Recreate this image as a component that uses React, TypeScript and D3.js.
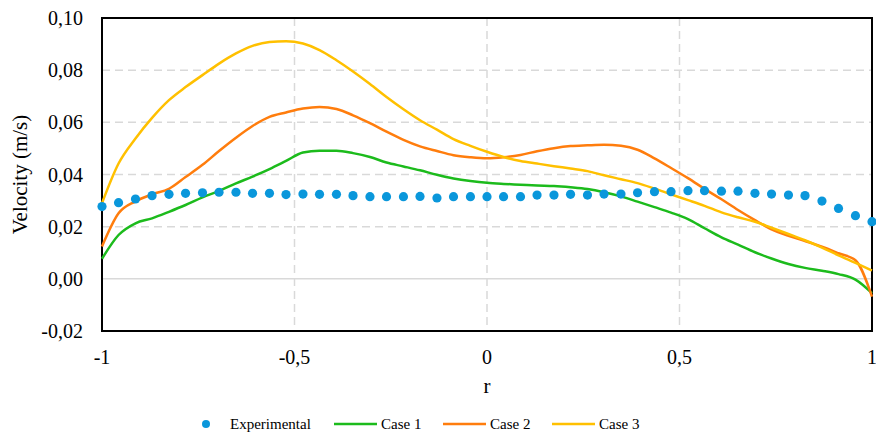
import React, { useEffect, useRef } from "react";
import * as d3 from "d3";

// Radial positions shared by the measured profile and the three simulated cases
const rValues = [
  -1, -0.957, -0.913, -0.87, -0.826, -0.783, -0.739, -0.696, -0.652, -0.609,
  -0.565, -0.522, -0.478, -0.435, -0.391, -0.348, -0.304, -0.261, -0.217, -0.174,
  -0.13, -0.087, -0.043, 0, 0.043, 0.087, 0.13, 0.174, 0.217, 0.261,
  0.304, 0.348, 0.391, 0.435, 0.478, 0.522, 0.565, 0.609, 0.652, 0.696,
  0.739, 0.783, 0.826, 0.87, 0.913, 0.957, 1,
];

const experimental = [
  0.0277, 0.0292, 0.0306, 0.0319, 0.0324, 0.0328, 0.033, 0.0332, 0.0332, 0.0328,
  0.0328, 0.0323, 0.0325, 0.0324, 0.0324, 0.0319, 0.0315, 0.0315, 0.0315, 0.0316,
  0.031, 0.0315, 0.0315, 0.0315, 0.0315, 0.0315, 0.0321, 0.0321, 0.0324, 0.0321,
  0.0325, 0.0325, 0.033, 0.0334, 0.0334, 0.0338, 0.0338, 0.0336, 0.0336, 0.0328,
  0.0325, 0.0321, 0.0319, 0.0298, 0.027, 0.0242, 0.0219,
];

const case1 = [
  0.0077, 0.0168, 0.0213, 0.0232, 0.0257, 0.0283, 0.0312, 0.0337, 0.0366, 0.0392,
  0.0421, 0.0452, 0.0484, 0.0491, 0.0491, 0.0482, 0.0467, 0.0446, 0.0431, 0.0416,
  0.0399, 0.0385, 0.0375, 0.0368, 0.0364, 0.0361, 0.0358, 0.0356, 0.0351, 0.0344,
  0.0332, 0.0316, 0.0296, 0.0275, 0.0254, 0.0229, 0.0194, 0.0159, 0.0131, 0.0102,
  0.0078, 0.0057, 0.0042, 0.0031, 0.0018, -0.0003, -0.0055,
];

const case2 = [
  0.0124, 0.0251, 0.0297, 0.0324, 0.0345, 0.039, 0.0437, 0.049, 0.0541, 0.0586,
  0.0621, 0.0638, 0.0653, 0.0659, 0.0651, 0.0627, 0.0597, 0.0564, 0.0533, 0.0508,
  0.049, 0.0474, 0.0466, 0.0462, 0.0466, 0.0475, 0.0489, 0.0501, 0.0509, 0.0512,
  0.0514, 0.051, 0.0495, 0.0462, 0.0425, 0.0386, 0.0345, 0.0305, 0.0264, 0.0225,
  0.019, 0.0165, 0.0145, 0.0123, 0.0098, 0.0071, -0.0068,
];

const case3 = [
  0.029, 0.0442, 0.0538, 0.0617, 0.0685, 0.0735, 0.0781, 0.0825, 0.0864, 0.0893,
  0.0908, 0.0911, 0.0902, 0.0877, 0.0838, 0.0795, 0.0747, 0.0697, 0.065, 0.0608,
  0.0572, 0.0536, 0.051, 0.0487, 0.0467, 0.0452, 0.0442, 0.0432, 0.0423, 0.0413,
  0.0397, 0.0382, 0.0367, 0.0346, 0.0324, 0.0302, 0.028, 0.0255, 0.0236, 0.0219,
  0.0196, 0.0172, 0.0148, 0.012, 0.009, 0.0061, 0.0032,
];

const yTicks = [-0.02, 0, 0.02, 0.04, 0.06, 0.08, 0.1];
const xTicks = [-1, -0.5, 0, 0.5, 1];

const seriesNames = ["Experimental", "Case 1", "Case 2", "Case 3"];
const COLORS = {
  exp: "#0a97db",
  c1: "#1cbb1c",
  c2: "#ff7d0d",
  c3: "#ffc000",
};

const W = 876;
const H = 435;
const M = { left: 102, right: 4, top: 18, bottom: 104 };
const FONT = "Liberation Serif, Tinos, Times New Roman, DejaVu Serif, serif";

const fmt = (v: number) =>
  (Math.abs(v) < 1e-9 ? "0,00" : d3.format(".2f")(v).replace(".", ",")).replace("−", "-");
const fmtX = (v: number) => String(v).replace(".", ",");

export default function App() {
  const ref = useRef<SVGSVGElement | null>(null);

  useEffect(() => {
    const svg = d3.select(ref.current);
    svg.selectAll("*").remove();

    const x = d3.scaleLinear().domain([-1, 1]).range([M.left, W - M.right]);
    const y = d3.scaleLinear().domain([-0.02, 0.1]).range([H - M.bottom, M.top]);

    // horizontal gridlines (zero line solid, others dashed)
    svg
      .append("g")
      .selectAll("line")
      .data(yTicks.filter((t) => t > -0.02 && t < 0.1))
      .join("line")
      .attr("x1", x(-1))
      .attr("x2", x(1))
      .attr("y1", (d) => y(d))
      .attr("y2", (d) => y(d))
      .attr("stroke", "#d9d9d9")
      .attr("stroke-width", 1.5)
      .attr("stroke-dasharray", (d) => (d === 0 ? null : "8,5"));

    // vertical gridlines
    svg
      .append("g")
      .selectAll("line")
      .data(xTicks.filter((t) => t > -1 && t < 1))
      .join("line")
      .attr("x1", (d) => x(d))
      .attr("x2", (d) => x(d))
      .attr("y1", y(0.1))
      .attr("y2", y(-0.02))
      .attr("stroke", "#d9d9d9")
      .attr("stroke-width", 1.5)
      .attr("stroke-dasharray", "8,5");

    // frame
    svg
      .append("rect")
      .attr("x", x(-1))
      .attr("y", y(0.1))
      .attr("width", x(1) - x(-1))
      .attr("height", y(-0.02) - y(0.1))
      .attr("fill", "none")
      .attr("stroke", "#000")
      .attr("stroke-width", 2);

    // tick labels
    svg
      .append("g")
      .selectAll("text")
      .data(yTicks)
      .join("text")
      .attr("x", 83)
      .attr("y", (d) => y(d))
      .attr("dy", "0.35em")
      .attr("text-anchor", "end")
      .style("font-family", FONT)
      .style("font-size", "20px")
      .attr("fill", "#000")
      .text((d) => fmt(d));

    svg
      .append("g")
      .selectAll("text")
      .data(xTicks)
      .join("text")
      .attr("x", (d) => x(d))
      .attr("y", 364)
      .attr("text-anchor", "middle")
      .style("font-family", FONT)
      .style("font-size", "20px")
      .attr("fill", "#000")
      .text((d) => fmtX(d));

    // axis titles
    svg
      .append("text")
      .attr("transform", `translate(27, ${y(0.04)}) rotate(-90)`)
      .attr("text-anchor", "middle")
      .style("font-family", FONT)
      .style("font-size", "21px")
      .attr("fill", "#000")
      .text("Velocity (m/s)");

    svg
      .append("text")
      .attr("x", x(0))
      .attr("y", 393)
      .attr("text-anchor", "middle")
      .style("font-family", FONT)
      .style("font-size", "21px")
      .attr("fill", "#000")
      .text("r");

    // simulated profiles
    const line = d3
      .line<number>()
      .x((_, i) => x(rValues[i]))
      .y((d) => y(d))
      .curve(d3.curveMonotoneX);

    const cases: [number[], string][] = [
      [case1, COLORS.c1],
      [case2, COLORS.c2],
      [case3, COLORS.c3],
    ];
    cases.forEach(([vals, color]) => {
      svg
        .append("path")
        .attr("d", line(vals))
        .attr("fill", "none")
        .attr("stroke", color)
        .attr("stroke-width", 2.5)
        .attr("stroke-linejoin", "round");
    });

    // measured profile
    svg
      .append("g")
      .selectAll("circle")
      .data(experimental)
      .join("circle")
      .attr("cx", (_, i) => x(rValues[i]))
      .attr("cy", (d) => y(d))
      .attr("r", 4.6)
      .attr("fill", COLORS.exp);

    // legend
    const lg = svg.append("g").style("font-family", FONT).style("font-size", "15px");
    const ly = 424;
    lg.append("circle").attr("cx", 206).attr("cy", ly).attr("r", 4).attr("fill", COLORS.exp);
    lg.append("text").attr("x", 230).attr("y", ly).attr("dy", "0.35em").text(seriesNames[0]);
    const items: [number, string, string][] = [
      [334, COLORS.c1, seriesNames[1]],
      [443, COLORS.c2, seriesNames[2]],
      [552, COLORS.c3, seriesNames[3]],
    ];
    items.forEach(([lx, color, name]) => {
      lg.append("line")
        .attr("x1", lx)
        .attr("x2", lx + 43)
        .attr("y1", ly)
        .attr("y2", ly)
        .attr("stroke", color)
        .attr("stroke-width", 2.5);
      lg.append("text").attr("x", lx + 47).attr("y", ly).attr("dy", "0.35em").text(name);
    });
  }, []);

  return (
    <div style={{ position: "absolute", left: 0, top: 0 }}>
      <svg ref={ref} width={W} height={H} style={{ display: "block", background: "#fff" }} />
    </div>
  );
}
